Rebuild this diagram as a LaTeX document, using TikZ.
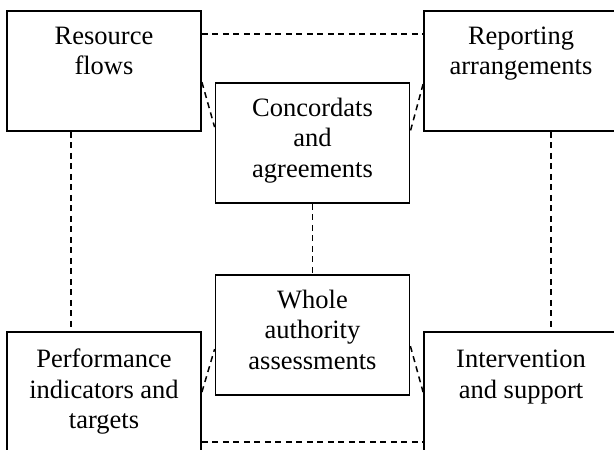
\documentclass[tikz,border=0pt]{standalone}
\usepackage{fontspec}
\setmainfont{Liberation Serif}
\begin{document}
\begin{tikzpicture}[x=1pt,y=-1pt,
  panel/.style={draw, line width=1.8pt, minimum width=194pt, minimum height=120pt, inner sep=0pt},
  caption/.style={anchor=north, inner sep=0pt, align=center,
    font=\fontsize{26.5}{30.5}\selectfont, yshift=-12.6pt},
  link/.style={line width=1.5pt, dash pattern=on 6pt off 4.5pt}]
  \clip (0,0) rectangle (614,450);
  \fill[white] (0,0) rectangle (614,450);

  % boxes
  \node[panel] (rf) at (104,71) {};
  \node[panel] (ra) at (521,71) {};
  \node[panel] (ca) at (312.5,143) {};
  \node[panel] (wa) at (312.5,335) {};
  \node[panel] (pi) at (104,392) {};
  \node[panel] (is) at (521,392) {};

  % captions, set from the top of each box
  \node[caption] (rf-t) at (rf.north) {\strut Resource\\flows};
  \node[caption] (ra-t) at (ra.north) {\strut Reporting\\arrangements};
  \node[caption] (ca-t) at (ca.north) {\strut Concordats\\and\\agreements};
  \node[caption] (wa-t) at (wa.north) {\strut Whole\\authority\\assessments};
  \node[caption, yshift=-2.5pt] (pi-t) at (pi.north) {\strut Performance\\indicators and\\targets};
  \node[caption, yshift=-2.5pt] (is-t) at (is.north) {\strut Intervention\\and support};

  % dashed links
  \draw[link] ([yshift=-24pt]rf.north east) -- ([yshift=-24pt]ra.north west);
  \draw[link] ([yshift=-72pt]rf.north east) -- ([yshift=-45pt]ca.north west);
  \draw[link] ([yshift=-74pt]ra.north west) -- ([yshift=-49pt]ca.north east);
  \draw[link] ([xshift=-33pt]rf.south) -- ([xshift=-33pt]pi.north);
  \draw[link] ([xshift=30pt]ra.south) -- ([xshift=30pt]is.north);
  \draw[link] (ca.south) -- (wa.north);
  \draw[link] ([yshift=-61pt]pi.north east) -- ([yshift=-75pt]wa.north west);
  \draw[link] ([yshift=-72pt]wa.north east) -- ([yshift=-61pt]is.north west);
  \draw[link] ([yshift=-111pt]pi.north east) -- ([yshift=-111pt]is.north west);
\end{tikzpicture}
\end{document}
